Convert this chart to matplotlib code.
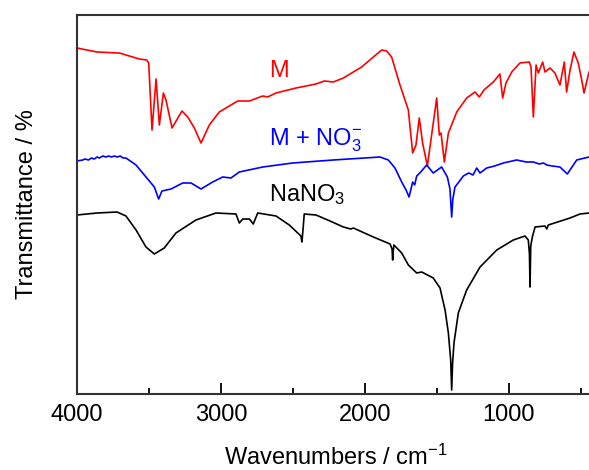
import matplotlib
matplotlib.use("Agg")
import matplotlib.pyplot as plt
from matplotlib.ticker import MultipleLocator

plt.rcParams["font.family"] = ["Liberation Sans", "DejaVu Sans"]
plt.rcParams["mathtext.fontset"] = "custom"
plt.rcParams["mathtext.rm"] = "Liberation Sans"
plt.rcParams["mathtext.it"] = "Liberation Sans"

# spectra (wavenumber in cm-1, transmittance offset in arbitrary units)
m_wn = [4000, 3861, 3706, 3567, 3516, 3502, 3479, 3451, 3428, 3400, 3382, 3340,
        3271, 3231, 3185, 3139, 3081, 3012, 2884, 2803, 2710, 2676, 2618, 2479,
        2340, 2282, 2220, 2150, 2081, 2023, 1942, 1884, 1850, 1815, 1757, 1699,
        1669, 1646, 1623, 1600, 1567, 1502, 1484, 1472, 1449, 1421, 1363, 1294,
        1236, 1206, 1174, 1109, 1063, 1044, 1021, 981, 924, 859, 847, 831, 812,
        796, 766, 750, 715, 681, 646, 616, 600, 576, 549, 519, 495, 479, 461,
        444, 420, 400]
m_t = [346, 342, 341, 335, 334, 331, 264, 315, 269, 301, 294, 266,
       283, 277, 266, 251, 269, 282, 293, 293, 298, 297, 301, 306,
       310, 313, 312, 316, 322, 327, 337, 344, 343, 337, 309, 284,
       241, 249, 276, 251, 228, 296, 259, 261, 232, 261, 282, 296,
       302, 297, 304, 312, 320, 296, 311, 322, 331, 332, 327, 277, 329,
       321, 332, 322, 326, 321, 309, 332, 302, 324, 342, 331, 314, 301, 312,
       322, 326, 328]

mn_wn = [4000, 3960, 3945, 3920, 3900, 3880, 3860, 3845, 3820, 3800, 3780, 3760,
         3741, 3720, 3700, 3680, 3660, 3630, 3590, 3521, 3463, 3433, 3410, 3347,
         3266, 3208, 3139, 3058, 2988, 2931, 2873, 2710, 2502, 2220, 1896, 1838,
         1792, 1745, 1715, 1694, 1669, 1655, 1641, 1613, 1572, 1526, 1468, 1428,
         1410, 1398, 1390, 1375, 1317, 1280, 1250, 1224, 1201, 1155, 1100, 1039,
         947, 880, 831, 790, 760, 738, 700, 646, 595, 530, 444, 400]
mn_t = [233, 234, 235, 234, 236, 235, 237, 236, 238, 237, 238, 237,
        238, 237, 238, 236, 236, 233, 229, 217, 207, 195, 203, 205,
        211, 211, 205, 212, 217, 216, 222, 227, 231, 234, 237, 234,
        226, 212, 204, 197, 212, 209, 218, 222, 229, 221, 227, 217,
        205, 177, 195, 207, 218, 221, 219, 226, 221, 226, 228, 231,
        234, 232, 232, 230, 231, 229, 228, 227, 220, 234, 237, 238]

na_wn = [4000, 3861, 3722, 3660, 3590, 3521, 3463, 3394, 3313, 3174, 3035, 2896,
         2873, 2849, 2803, 2776, 2745, 2618, 2526, 2467, 2445, 2438, 2430, 2422,
         2340, 2243, 2150, 2099, 2081, 1942, 1826, 1812, 1808, 1804, 1799, 1745,
         1699, 1641, 1606, 1526, 1479, 1444, 1421, 1405, 1398, 1392, 1382, 1352,
         1294, 1201, 1085, 970, 889, 866, 858, 854, 849, 838, 819, 750, 738, 727,
         576, 507, 444, 400]
na_t = [179, 181, 182, 178, 164, 147, 140, 146, 161, 174, 181, 180,
        171, 175, 175, 170, 181, 178, 169, 161, 158, 152, 165, 180,
        179, 173, 167, 165, 166, 157, 150, 145, 134, 143, 149, 141,
        129, 121, 122, 116, 106, 84, 61, 34, 4, 30, 51, 81,
        104, 127, 144, 154, 158, 154, 140, 107, 148, 157, 167, 168, 165, 169,
        176, 180, 181, 182]

fig = plt.figure(figsize=(5.89, 4.70), dpi=100)
ax = fig.add_axes([77 / 589, 76 / 470, 518.4 / 589, 379 / 470])

ax.plot(m_wn, m_t, color="#ff0000", lw=1.2)
ax.plot(mn_wn, mn_t, color="#0000ff", lw=1.2)
ax.plot(na_wn, na_t, color="black", lw=1.2)

ax.text(2667, 317, "M", color="#ff0000", fontsize=17, va="baseline")
ax.text(2667, 249, r"M + NO$_3^{-}$", color="#0000ff", fontsize=17, va="baseline")
ax.text(2667, 193, r"NaNO$_3$", color="black", fontsize=17, va="baseline")

ax.set_xlim(4000, 400)
ax.set_ylim(0, 379)
ax.xaxis.set_major_locator(MultipleLocator(1000))
ax.xaxis.set_minor_locator(MultipleLocator(500))
ax.set_yticks([])
ax.tick_params(axis="x", which="major", direction="in", length=8, width=1.3,
               labelsize=17, pad=7, top=False)
ax.tick_params(axis="x", which="minor", direction="in", length=4.5, width=1.3, top=False)

for side in ["left", "top", "bottom"]:
    ax.spines[side].set_linewidth(1.5)
    ax.spines[side].set_color("#333333")
ax.spines["right"].set_visible(False)

ax.set_xlabel(r"Wavenumbers / cm$^{-1}$", fontsize=17, labelpad=14)
ax.set_ylabel("Transmittance / %", fontsize=17, labelpad=28)

fig.savefig("out.png", dpi=100)
